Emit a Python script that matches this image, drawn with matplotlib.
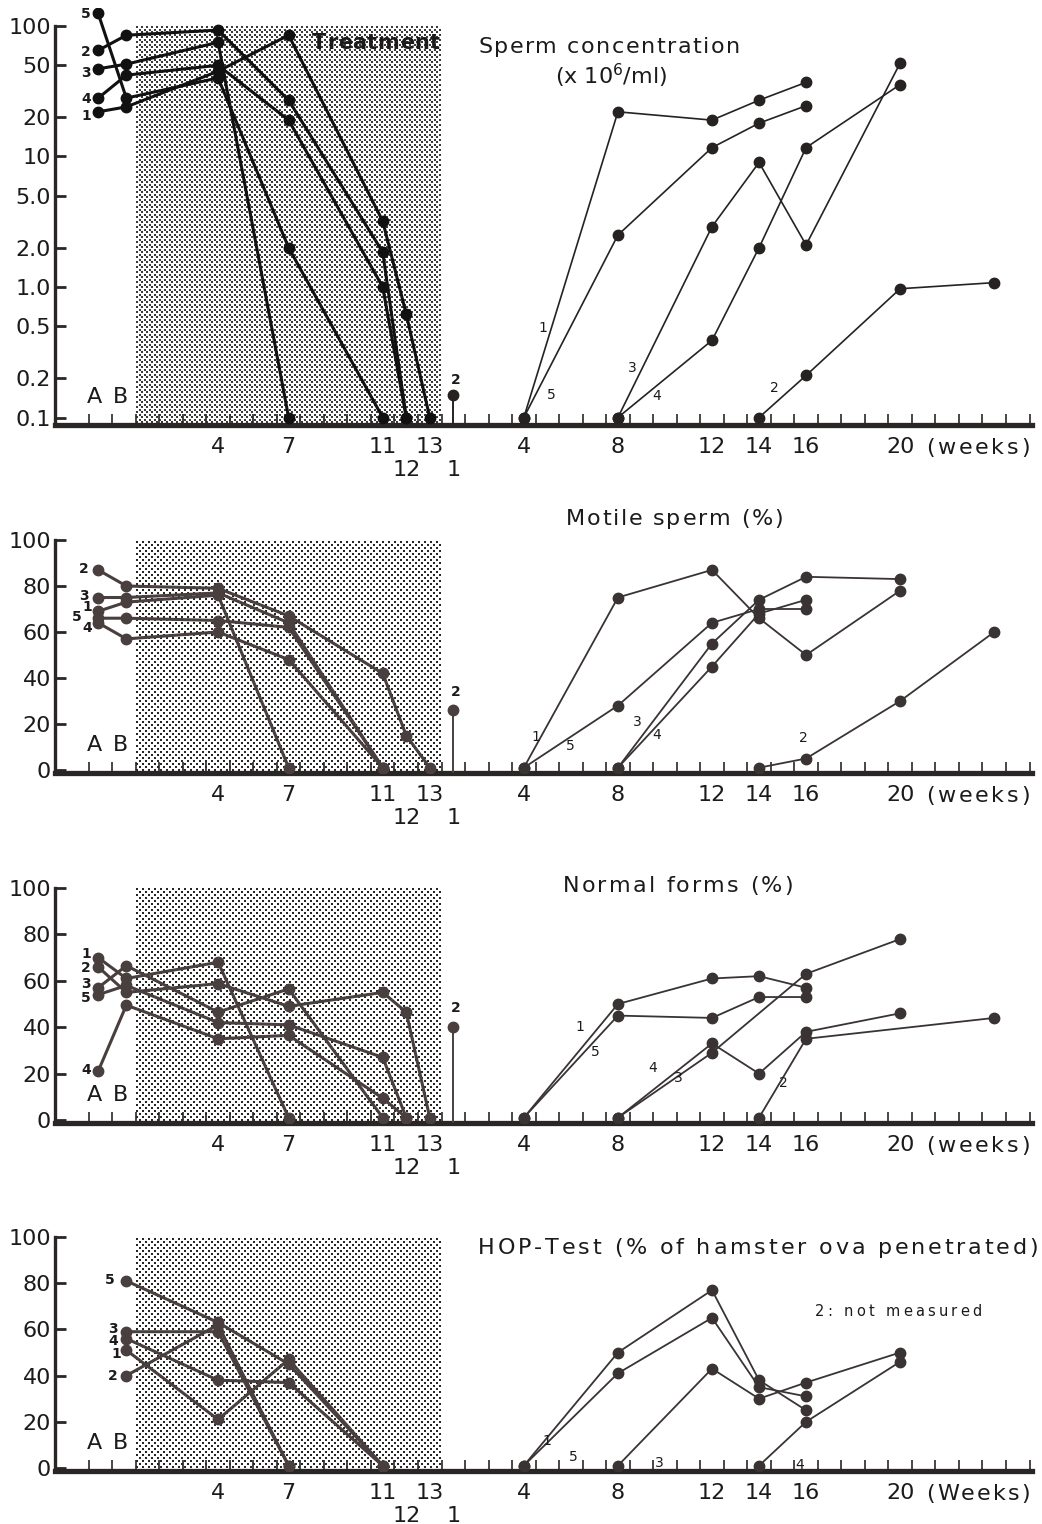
import matplotlib
matplotlib.use("Agg")
import numpy as np
import matplotlib.pyplot as plt
from matplotlib.colors import to_rgb

plt.rcParams['font.family'] = ['DejaVu Sans']

# --- data: time points (treatment phase, recovery phase) ---
weeks_tr = ["A", "B", 4, 7, 11, 12, 13]   # baseline A/B, then weeks of treatment
weeks_rec = [4, 8, 12, 14, 16, 20, 24]     # weeks after end of treatment

# sperm concentration (x10^6/ml), per subject
conc_tr = {
    1: [22, 24, 45, 85, 3.2, 0.62, 0.1],
    2: [65, 85, 93, 27, 1.85, 0.1, None],
    3: [47, 51, 75, 0.1, None, None, None],
    4: [28, 42, 50, 19, 1.0, 0.1, None],
    5: [125, 28, 40, 2.0, 0.1, None, None],
}
conc_rec = {
    1: [0.1, 22, 19, 27, 37, None, None],
    2: [None, None, None, 0.1, 0.21, 0.97, 1.08],
    3: [None, 0.1, 2.9, 9.0, 2.1, 52, None],
    4: [None, 0.1, 0.39, 2.0, 11.7, 35.6, None],
    5: [0.1, 2.5, 11.7, 18, 24.5, None, None],
}
conc_s2_post1 = 0.15

# motile sperm (%)
motile_tr = {
    1: [69, 73, 76, 1, None, None, None],
    2: [87, 80, 79, 67, 42, 15, 1],
    3: [75, 75, 77, 64, 1, None, None],
    4: [64, 57, 60, 48, 1, None, None],
    5: [66, 66, 65, 62, 1, None, None],
}
motile_rec = {
    1: [1, 75, 87, 66, 50, 78, None],
    2: [None, None, None, 1, 5, 30, 60],
    3: [None, 1, 55, 74, 84, 83, None],
    4: [None, 1, 45, 68, 74, None, None],
    5: [1, 28, 64, 70, 70, None, None],
}
motile_s2_post1 = 26

# normal forms (%)
normal_tr = {
    1: [70, 61, 68, 1, None, None, None],
    2: [66, 55, 58.8, 49, 55, 46.5, 1],
    3: [57, 66.5, 46.5, 56.5, 1, None, None],
    4: [21, 49.5, 35, 36.5, 9.4, 1, None],
    5: [54, 58, 42, 41, 27, 1, None],
}
normal_rec = {
    1: [1, 50, 61, 62, 57, None, None],
    2: [None, None, None, 1, 35, None, 44],
    3: [None, 1, 29, None, 63, 78, None],
    4: [None, 1, 33, 20, 38, 46, None],
    5: [1, 45, 44, 53, 53, None, None],
}
normal_s2_post1 = 40

# HOP-test (% of hamster ova penetrated)
hop_tr = {
    1: [None, 51, 21, 47, 1, None, None],
    2: [None, 40, 62, 1, None, None, None],
    3: [None, 59, 59, 1, None, None, None],
    4: [None, 56, 38, 37, 1, None, None],
    5: [None, 81, 63, 45, 1, None, None],
}
hop_rec = {
    1: [1, 50, 77, 38, 25, None, None],
    3: [None, 1, 43, 30, 37, 50, None],
    4: [None, None, None, 1, 20, 46, None],
    5: [1, 41, 65, 35, 31, None, None],
}

# --- layout (pixels of the 1042x1524 canvas) ---
W, H = 1042, 1524
X0, XPW = 124.0, 23.52          # pixel of week 0, pixels per week
XL, XR = 55, 1032
BASE_POS = {"A": -1.1, "B": 0.1}
TREAT = (0.55, 13.55)

fig = plt.figure(figsize=(W / 100, H / 100), dpi=100)
renderer = fig.canvas.get_renderer()
INK = '#1c1a1a'


def fx(px):
    return px / W


def fy(py):
    return 1 - py / H


def tr_x(lbl):
    return BASE_POS.get(lbl, lbl)


def rec_x(w):
    return 13 + w


def tracked(x_left, y_base, s, size, x_right, **kw):
    # draw a string letter by letter so that it spans x_left..x_right
    widths = []
    for ch in s:
        if ch == ' ':
            widths.append(size * 100 / 72 * 0.32)
            continue
        t = fig.text(0, 0, ch, fontsize=size, **kw)
        widths.append(t.get_window_extent(renderer).width)
        t.remove()
    gap = (x_right - x_left - sum(widths)) / max(len(s) - 1, 1)
    x = x_left
    for ch, wd in zip(s, widths):
        if ch != ' ':
            fig.text(fx(x), fy(y_base), ch, fontsize=size, ha='left',
                     va='baseline', color=INK, **kw)
        x += wd + gap


def stipple(ax, lo, hi, dot, step=6):
    # dotted screen behind the treatment period
    (x0, y0), (x1, y1) = ax.transData.transform([(TREAT[0], lo), (TREAT[1], hi)])
    w, h = int(x1 - x0), int(y1 - y0)
    yy, xx = np.mgrid[0:h, 0:w]
    half = step // 2
    m = (((xx % step) < 2) & ((yy % step) < 2)) | \
        ((((xx + half) % step) < 2) & (((yy + half) % step) < 2))
    img = np.ones((h, w, 3))
    img[m] = to_rgb(dot)
    fig.figimage(img, xo=int(x0), yo=int(y0), zorder=-1)


def make_axes(yb, yt):
    ax = fig.add_axes([fx(XL), fy(yb), (XR - XL) / W, (yb - yt) / H])
    ax.set_xlim((XL - X0) / XPW, (XR - X0) / XPW)
    for s in ['top', 'right']:
        ax.spines[s].set_visible(False)
    ax.spines['bottom'].set_linewidth(3.8)
    ax.spines['bottom'].set_color('#2b2626')
    ax.spines['left'].set_linewidth(2.4)
    ax.spines['left'].set_color('#2b2626')
    ax.set_xticks(np.arange(-1.5, 38.6, 1.0))
    ax.tick_params(axis='x', direction='in', length=8, width=1.2,
                   color='#2b2626', labelbottom=False)
    ax.tick_params(axis='y', direction='in', length=8, width=2,
                   color='#2b2626', labelsize=16, pad=3, labelcolor=INK)
    ax.patch.set_alpha(0)
    return ax


def draw_series(ax, tr, rec, lw_tr, lw_rec, col_tr, col_rec):
    for subj, vals in tr.items():
        pts = [(tr_x(l), v) for l, v in zip(weeks_tr, vals) if v is not None]
        xs, ys = zip(*pts)
        ax.plot(xs, ys, '-o', color=col_tr, lw=lw_tr, ms=7.5, zorder=4)
    for subj, vals in rec.items():
        pts = [(rec_x(w), v) for w, v in zip(weeks_rec, vals) if v is not None]
        xs, ys = zip(*pts)
        ax.plot(xs, ys, '-o', color=col_rec, lw=lw_rec, ms=7.5, zorder=4)


def week_labels(ax, yb, weeks_word):
    row1 = [(4, "4"), (7, "7"), (11, "11"), (13, "13"),
            (rec_x(4), "4"), (rec_x(8), "8"), (rec_x(12), "12"),
            (rec_x(14), "14"), (rec_x(16), "16"), (rec_x(20), "20")]
    row2 = [(12, "12"), (rec_x(1), "1")]
    for x, s in row1:
        ax.annotate(s, xy=(x, 0), xycoords=('data', 'axes fraction'),
                    xytext=(0, -22), textcoords='offset pixels',
                    ha='center', va='center', fontsize=16, color=INK)
    for x, s in row2:
        ax.annotate(s, xy=(x, 0), xycoords=('data', 'axes fraction'),
                    xytext=(0, -45), textcoords='offset pixels',
                    ha='center', va='center', fontsize=16, color=INK)
    tracked(926, yb + 29, weeks_word, 16, 1030)
    for lbl, dx in (("A", -1.25), ("B", -0.15)):
        ax.annotate(lbl, xy=(dx, 0), xycoords=('data', 'axes fraction'),
                    xytext=(0, 28), textcoords='offset pixels',
                    ha='center', va='center', fontsize=16, color=INK)


def lollipop(ax, val, bottom, col):
    ax.vlines(rec_x(1), bottom, val, color=col, lw=1.4, zorder=3)
    ax.plot([rec_x(1)], [val], 'o', color=col, ms=7.5, zorder=4)


def small(labels, size=10, weight='normal'):
    for s, x, y in labels:
        fig.text(fx(x), fy(y), s, ha='center', va='center', fontsize=size,
                 color=INK, weight=weight)


# ---------- panel 1: sperm concentration (log) ----------
ax1 = make_axes(425, 8)
ax1.set_yscale('log')
lo1 = 10 ** ((287 - 425) / 130.5)
ax1.set_ylim(lo1, 10 ** ((287 - 8) / 130.5))
conc_ticks = [0.1, 0.2, 0.5, 1.0, 2.0, 5.0, 10, 20, 50, 100]
ax1.set_yticks(conc_ticks)
ax1.set_yticklabels(["0.1", "0.2", "0.5", "1.0", "2.0", "5.0", "10", "20", "50", "100"])
ax1.minorticks_off()
ax1.spines['left'].set_bounds(lo1, 100)
stipple(ax1, lo1, 100, '#3a3a3a', step=5)
draw_series(ax1, conc_tr, conc_rec, 2.2, 1.2, '#111111', '#262222')
lollipop(ax1, conc_s2_post1, lo1, '#262222')
week_labels(ax1, 425, "(weeks)")
tracked(312, 49, "Treatment", 15, 440, weight='bold')
tracked(478, 53, "Sperm concentration", 16, 740)
fig.text(fx(611), fy(76), "(x 10$^6$/ml)", fontsize=16, color=INK,
         va='center', ha='center')
small([("5", 86, 14), ("2", 86, 52), ("3", 86, 73), ("4", 86, 99), ("1", 86, 116),
       ("2", 456, 380)], 10, 'bold')
small([("1", 543, 328), ("5", 551, 395), ("3", 632, 368), ("4", 657, 396),
       ("2", 774, 388)])


# ---------- linear panels ----------
def linear_panel(y0, ppu):
    yb = y0 + 3
    yt = y0 - ppu * 112
    ax = make_axes(yb, yt)
    lo = (y0 - yb) / ppu
    ax.set_ylim(lo, 112)
    ax.set_yticks([0, 20, 40, 60, 80, 100])
    ax.spines['left'].set_bounds(lo, 100)
    stipple(ax, lo, 100, '#262626', step=6)
    return ax, lo, yb


ax2, lo2, yb2 = linear_panel(770, 2.3)
draw_series(ax2, motile_tr, motile_rec, 2.2, 1.3, '#4a3f3f', '#3a3333')
lollipop(ax2, motile_s2_post1, lo2, '#4a3f3f')
week_labels(ax2, yb2, "(weeks)")
tracked(566, 525, "Motile sperm (%)", 16, 783)
small([("2", 84, 569), ("3", 84, 596), ("1", 87, 607), ("5", 77, 617), ("4", 87, 628),
       ("2", 456, 692)], 10, 'bold')
small([("1", 536, 737), ("5", 570, 746), ("3", 637, 722), ("4", 657, 735),
       ("2", 803, 738)])

ax3, lo3, yb3 = linear_panel(1120, 2.32)
draw_series(ax3, normal_tr, normal_rec, 2.2, 1.3, '#4a3f3f', '#3a3333')
lollipop(ax3, normal_s2_post1, lo3, '#4a3f3f')
week_labels(ax3, yb3, "(weeks)")
tracked(563, 892, "Normal forms (%)", 16, 793)
small([("1", 86, 954), ("2", 86, 968), ("3", 86, 984), ("5", 86, 998), ("4", 86, 1070),
       ("2", 456, 1008)], 10, 'bold')
small([("1", 580, 1027), ("5", 595, 1052), ("4", 653, 1068), ("3", 678, 1078),
       ("2", 783, 1083)])

ax4, lo4, yb4 = linear_panel(1468, 2.31)
draw_series(ax4, hop_tr, hop_rec, 2.2, 1.3, '#4a3f3f', '#3a3333')
week_labels(ax4, yb4, "(Weeks)")
tracked(478, 1254, "HOP-Test (% of hamster ova penetrated)", 16, 1038)
tracked(815, 1316, "2: not measured", 10.5, 982)
small([("5", 110, 1280), ("3", 113, 1329), ("4", 113, 1341), ("1", 116, 1354),
       ("2", 113, 1376)], 10, 'bold')
small([("1", 547, 1441), ("5", 573, 1457), ("3", 659, 1463), ("4", 800, 1465)])

fig.savefig("out.png", dpi=100)
